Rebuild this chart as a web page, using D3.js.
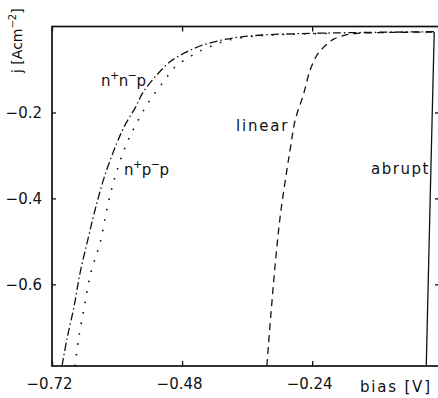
<!DOCTYPE html>
<html>
<head>
<meta charset="utf-8">
<script src="https://cdn.jsdelivr.net/npm/d3@7"></script>
<style>
  html, body { margin: 0; padding: 0; background: #fff; }
  svg { display: block; }
  text { font-family: "DejaVu Sans", sans-serif; fill: #111; }
</style>
</head>
<body>
<svg id="chart" width="438" height="398"></svg>
<script>
// bias [V] vs j [A/cm2]
var nnpCurve = [
  [-0.7015, -0.790], [-0.6929, -0.730], [-0.6794, -0.652], [-0.6683, -0.574],
  [-0.6541, -0.497], [-0.6406, -0.427], [-0.6234, -0.350], [-0.6006, -0.272],
  [-0.5852, -0.229], [-0.5668, -0.190], [-0.5514, -0.152], [-0.5267, -0.113],
  [-0.5022, -0.082], [-0.4714, -0.059], [-0.4412, -0.043], [-0.4043, -0.031],
  [-0.3700, -0.024], [-0.3200, -0.019], [-0.2400, -0.016], [-0.1500, -0.014],
  [-0.0148, -0.012]
];
var nppCurve = [
  [-0.6775, -0.790], [-0.6714, -0.730], [-0.6604, -0.652], [-0.6486, -0.574],
  [-0.6314, -0.504], [-0.6190, -0.427], [-0.6037, -0.350], [-0.5821, -0.272],
  [-0.5575, -0.210], [-0.5391, -0.171], [-0.5145, -0.129], [-0.4929, -0.094],
  [-0.4652, -0.070], [-0.4468, -0.057], [-0.4191, -0.042], [-0.3951, -0.032],
  [-0.3500, -0.023], [-0.2800, -0.018], [-0.2000, -0.016]
];
var linearCurve = [
  [-0.3236, -0.790], [-0.3162, -0.671], [-0.3083, -0.555], [-0.2991, -0.443],
  [-0.2867, -0.334], [-0.2793, -0.276], [-0.2714, -0.218], [-0.2560, -0.158],
  [-0.2437, -0.101], [-0.2308, -0.066], [-0.2160, -0.045], [-0.2012, -0.030],
  [-0.1791, -0.020], [-0.1569, -0.016], [-0.0092, -0.013]
];
var abruptCurve = [
  [-0.0295, -0.790], [-0.0221, -0.392], [-0.0148, -0.013]
];
var xTicks = [-0.72, -0.48, -0.24];
var yTicks = [-0.2, -0.4, -0.6];

var svg = d3.select('#chart');
var plotL = 52, plotR = 439, plotT = 26.5, plotB = 366;

var x = d3.scaleLinear().domain([-0.72, -0.006]).range([plotL, plotR]);
var y = d3.scaleLinear().domain([0, -0.79]).range([plotT, plotB]);

svg.append('clipPath').attr('id', 'plot')
  .append('rect')
  .attr('x', plotL).attr('y', plotT)
  .attr('width', plotR - plotL).attr('height', plotB - plotT);

var line = d3.line()
  .x(function (d) { return x(d[0]); })
  .y(function (d) { return y(d[1]); })
  .curve(d3.curveCatmullRom.alpha(0.5));

var curves = svg.append('g').attr('clip-path', 'url(#plot)')
  .attr('fill', 'none').attr('stroke', '#111').attr('stroke-width', 1.3);

curves.append('path').attr('d', line(nnpCurve))
  .attr('stroke-dasharray', '8,3,1.5,3');
curves.append('path').attr('d', line(nppCurve))
  .attr('stroke-dasharray', '1.6,9').attr('stroke-width', 1.6);
curves.append('path').attr('d', line(linearCurve))
  .attr('stroke-dasharray', '7,5');
curves.append('path').attr('d', line(abruptCurve));

// frame with inward ticks
var axisStyle = function (g) {
  g.select('.domain').remove();
  g.selectAll('.tick line').attr('stroke', '#111').attr('stroke-width', 1.3);
  g.selectAll('.tick text').attr('font-size', 15)
    .attr('font-family', '"DejaVu Sans", sans-serif').attr('fill', '#111');
};

svg.append('g').attr('transform', 'translate(0,' + plotB + ')')
  .call(d3.axisBottom(x).tickValues(xTicks).tickFormat(d3.format('.2f'))
    .tickSizeInner(-5).tickSizeOuter(0).tickPadding(12))
  .call(axisStyle)
  .selectAll('.tick text').attr('dx', -3);

svg.append('g').attr('transform', 'translate(0,' + plotT + ')')
  .call(d3.axisTop(x).tickValues(xTicks).tickFormat('')
    .tickSizeInner(-5).tickSizeOuter(0))
  .call(axisStyle);

svg.append('g').attr('transform', 'translate(' + plotL + ',0)')
  .call(d3.axisLeft(y).tickValues(yTicks).tickFormat(d3.format('.1f'))
    .tickSizeInner(-4).tickSizeOuter(0).tickPadding(10))
  .call(axisStyle);

svg.append('g').attr('transform', 'translate(' + plotR + ',0)')
  .call(d3.axisRight(y).tickValues(yTicks).tickFormat('')
    .tickSizeInner(-4).tickSizeOuter(0))
  .call(axisStyle);

svg.append('rect')
  .attr('x', plotL).attr('y', plotT)
  .attr('width', plotR - plotL).attr('height', plotB - plotT)
  .attr('fill', 'none').attr('stroke', '#111').attr('stroke-width', 1.7);

// axis titles
var yTitle = svg.append('text')
  .attr('transform', 'translate(22,73) rotate(-90)')
  .attr('font-size', 14);
yTitle.append('tspan').text('j [Acm');
yTitle.append('tspan').attr('font-size', 10).attr('dy', -6).text('\u22122');
yTitle.append('tspan').attr('dy', 6).text(']');

svg.append('text').attr('x', 360).attr('y', 392)
  .attr('font-size', 15).attr('letter-spacing', 1.8).text('bias [V]');

// curve labels with superscripts
function superLabel(px, py, parts) {
  var t = svg.append('text').attr('x', px).attr('y', py)
    .attr('font-size', 15).attr('letter-spacing', 0.5);
  var raised = false;
  parts.forEach(function (p) {
    if (p.sup) {
      t.append('tspan').attr('font-size', 11).attr('dy', -7).attr('dx', -1).text(p.sup);
      raised = true;
    } else {
      var s = t.append('tspan').text(p.t);
      if (raised) { s.attr('dy', 7).attr('dx', -1); raised = false; }
    }
  });
}
superLabel(101, 86, [{ t: 'n' }, { sup: '+' }, { t: 'n' }, { sup: '\u2212' }, { t: 'p' }]);
superLabel(124, 175, [{ t: 'n' }, { sup: '+' }, { t: 'p' }, { sup: '\u2212' }, { t: 'p' }]);

svg.append('text').attr('x', 236).attr('y', 131)
  .attr('font-size', 15).attr('letter-spacing', 1.8).text('linear');
svg.append('text').attr('x', 371).attr('y', 174)
  .attr('font-size', 15).attr('letter-spacing', 1.5).text('abrupt');
</script>
</body>
</html>
